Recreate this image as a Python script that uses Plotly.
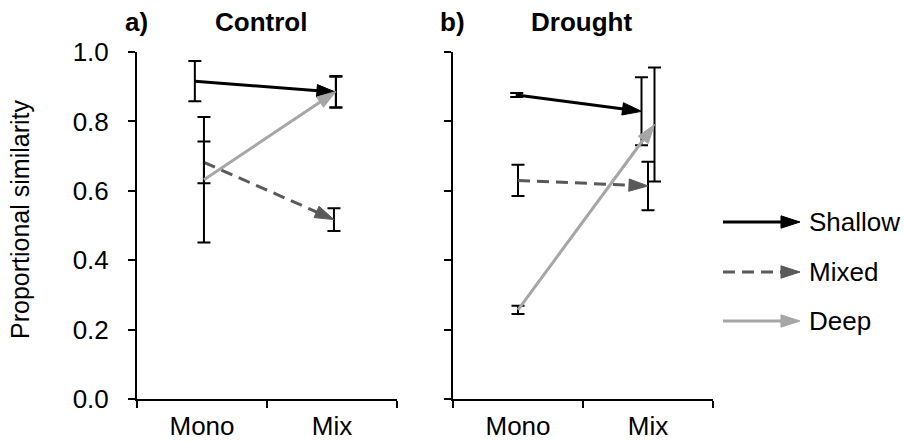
import plotly.graph_objects as go

W, H = 904, 442

categories = ["Mono", "Mix"]
series = ["Shallow", "Mixed", "Deep"]

# Control panel (a)
control_shallow = [0.916, 0.884]
control_shallow_err = [0.058, 0.045]
control_mixed = [0.682, 0.517]
control_mixed_err = [0.060, 0.033]
control_deep = [0.632, 0.886]
control_deep_err = [0.181, 0.045]

# Drought panel (b)
drought_shallow = [0.876, 0.829]
drought_shallow_err = [0.006, 0.098]
drought_mixed = [0.630, 0.614]
drought_mixed_err = [0.045, 0.070]
drought_deep = [0.257, 0.791]
drought_deep_err = [0.012, 0.164]

# small horizontal offsets of each series within a category (category units)
control_offsets = {"Shallow": [-0.055, 0.03], "Mixed": [0.015, 0.015], "Deep": [0.015, 0.03]}
drought_offsets = {"Shallow": [-0.01, -0.05], "Mixed": [0.0, 0.0], "Deep": [0.0, 0.05]}

colors = {"Shallow": "#000000", "Mixed": "#595959", "Deep": "#A6A6A6"}
dashes = {"Shallow": "solid", "Mixed": "12px,7px", "Deep": "solid"}

FONT = "Liberation Sans, Arial, sans-serif"
FS = 26
ARROW = 20

fig = go.Figure()

cat_pos = [0.5, 1.5]

def add_panel(vals, errs, offsets, xa, ya):
    for name in series:
        xs = [c + o for c, o in zip(cat_pos, offsets[name])]
        fig.add_trace(go.Scatter(
            x=xs, y=vals[name], mode="lines+markers",
            xaxis=xa, yaxis=ya, showlegend=False,
            line=dict(color=colors[name], width=3, dash=dashes[name]),
            marker=dict(symbol="arrow", angleref="previous", size=[0, ARROW],
                        color=colors[name], opacity=1,
                        line=dict(width=1, color=colors[name])),
            error_y=dict(type="data", array=errs[name], color="black",
                         thickness=2, width=6.5),
        ))

add_panel({"Shallow": control_shallow, "Mixed": control_mixed, "Deep": control_deep},
          {"Shallow": control_shallow_err, "Mixed": control_mixed_err, "Deep": control_deep_err},
          control_offsets, "x", "y")
add_panel({"Shallow": drought_shallow, "Mixed": drought_mixed, "Deep": drought_deep},
          {"Shallow": drought_shallow_err, "Mixed": drought_mixed_err, "Deep": drought_deep_err},
          drought_offsets, "x2", "y2")

# legend drawn in its own hidden axes
legend_rows = [222, 272, 321]
for name, row in zip(series, legend_rows):
    fig.add_trace(go.Scatter(
        x=[0, 1], y=[row, row], mode="lines+markers", xaxis="x3", yaxis="y3",
        showlegend=False, hoverinfo="skip",
        line=dict(color=colors[name], width=3, dash=dashes[name]),
        marker=dict(symbol="arrow", angleref="previous", size=[0, ARROW],
                    color=colors[name], opacity=1,
                    line=dict(width=1, color=colors[name])),
    ))
    fig.add_annotation(x=1, y=row, xref="x3", yref="y3", text=name, showarrow=False,
                       xanchor="left", yanchor="middle", xshift=7,
                       font=dict(family=FONT, size=FS, color="black"))

y0_px, y1_px = 52, 399
ydom = [1 - y1_px / H, 1 - y0_px / H]

xaxis_common = dict(
    range=[0, 2], showline=True, linecolor="black", linewidth=2,
    tickmode="array", tickvals=cat_pos, ticktext=categories, ticks="",
    ticklabelstandoff=3, automargin=False,
    minor=dict(tickmode="array", tickvals=[0, 1, 2], ticks="outside", ticklen=7,
               tickwidth=2, tickcolor="black"),
    showgrid=False, zeroline=False, fixedrange=True,
    tickfont=dict(family=FONT, size=FS, color="black"),
)
yaxis_common = dict(
    range=[0, 1], showline=True, linecolor="black", linewidth=2,
    tickmode="linear", tick0=0, dtick=0.2, tickformat=".1f",
    ticks="outside", ticklen=7, tickwidth=1.5, tickcolor="black",
    showgrid=False, zeroline=False, fixedrange=True, domain=ydom, automargin=False,
    tickfont=dict(family=FONT, size=FS, color="black"),
)

fig.update_layout(
    template="none",
    width=W, height=H, margin=dict(l=0, r=0, t=0, b=0, autoexpand=False),
    paper_bgcolor="white", plot_bgcolor="white",
    xaxis=dict(domain=[137 / W, 397 / W], anchor="y", **xaxis_common),
    yaxis=dict(anchor="x", ticklabelstandoff=14, **yaxis_common),
    xaxis2=dict(domain=[453 / W, 713 / W], anchor="y2", **xaxis_common),
    yaxis2=dict(anchor="x2", showticklabels=False, **yaxis_common),
    xaxis3=dict(domain=[723 / W, 800 / W], range=[0, 1], visible=False, anchor="y3",
                fixedrange=True, automargin=False),
    yaxis3=dict(domain=[1 - 350 / H, 1 - 200 / H], range=[350, 200], visible=False,
                anchor="x3", fixedrange=True, automargin=False),
)

titles = [("a)", 136), ("Control", 261), ("b)", 452), ("Drought", 581)]
for txt, xc in titles:
    fig.add_annotation(x=xc / W, y=1 - 22 / H, xref="paper", yref="paper",
                       text=f"<b>{txt}</b>", showarrow=False,
                       xanchor="center", yanchor="middle",
                       font=dict(family=FONT, size=FS, color="black"))

fig.add_annotation(x=20 / W, y=1 - 220 / H, xref="paper", yref="paper",
                   text="Proportional similarity", textangle=-90, showarrow=False,
                   xanchor="center", yanchor="middle",
                   font=dict(family=FONT, size=25, color="black"))

fig.write_html("out.html")
